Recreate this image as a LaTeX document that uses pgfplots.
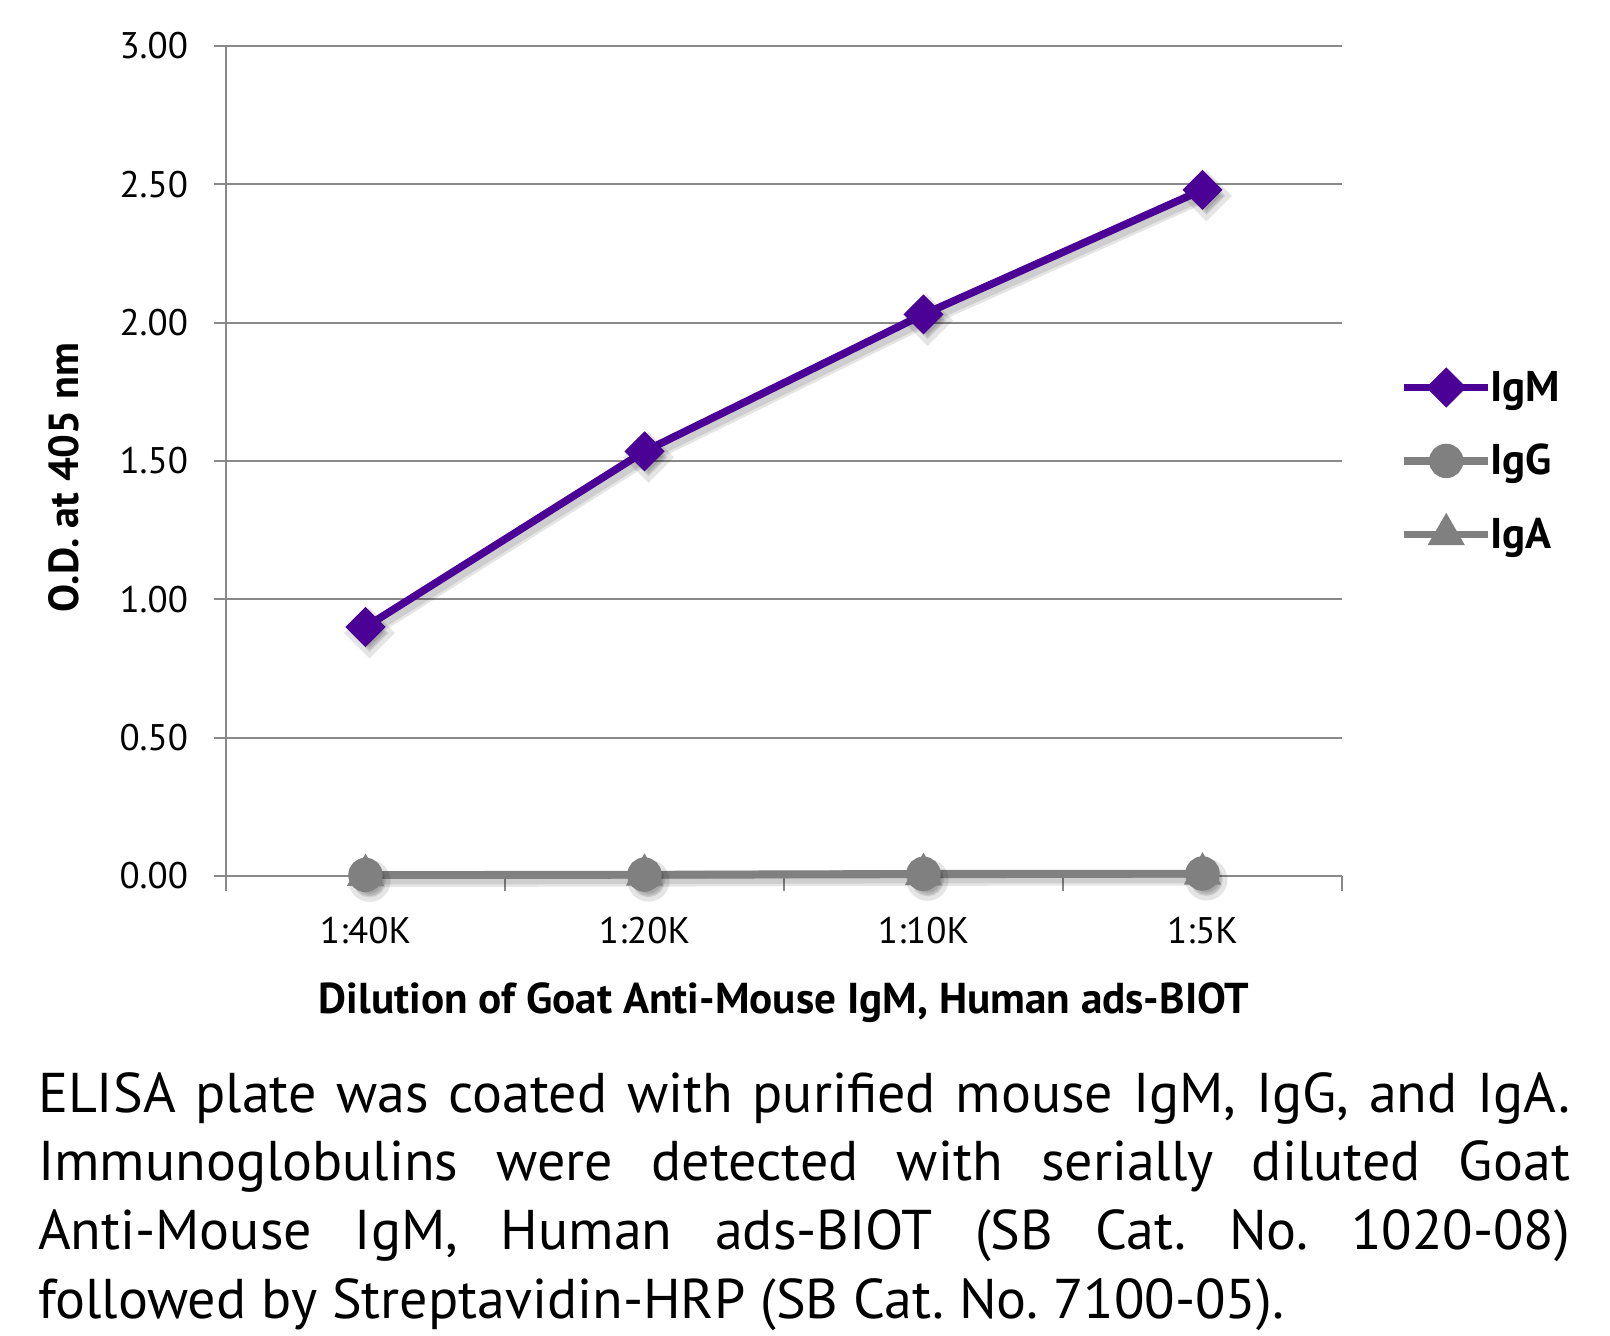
\documentclass[border=0pt]{standalone}
\usepackage{fontspec}
\setmainfont{PT Sans}
\usepackage{pgfplots}
\pgfplotsset{compat=1.18}
\definecolor{igm}{RGB}{75,0,150}
\definecolor{gr}{RGB}{128,128,128}
\definecolor{gridc}{RGB}{137,137,137}

\begin{document}
\frenchspacing
\begin{tikzpicture}
\path[use as bounding box] (0,0) rectangle (805pt,-667.5pt);
\begin{axis}[
  at={(113pt,-438pt)}, anchor=south west, scale only axis,
  width=558pt, height=415pt,
  xmin=-0.5, xmax=3.5, ymin=0, ymax=3,
  axis x line=bottom, axis y line=left,
  axis line style={gridc, line width=1pt, -},
  xtick={0,1,2,3}, xticklabels={1:40K,1:20K,1:10K,1:5K},
  major x tick style={draw=none},
  extra x ticks={-0.5,0.5,1.5,2.5,3.5}, extra x tick labels={},
  extra x tick style={major tick length=7.5pt, tick align=outside, grid=none,
     major x tick style={draw=gridc, line width=1pt}},
  ytick={0,0.5,1,1.5,2,2.5,3},
  ymajorgrids, grid style={gridc, line width=1pt},
  major y tick style={draw=gridc, line width=1pt},
  major tick length=6pt, tick align=outside,
  /pgf/number format/assume math mode=true,
  yticklabel style={/pgf/number format/fixed, /pgf/number format/fixed zerofill, /pgf/number format/precision=2, xshift=-9.5pt},
  tick label style={font=\fontsize{18.5}{20}\selectfont, black},
  xticklabel style={yshift=-11pt},
  xlabel={Dilution of Goat Anti-Mouse IgM, Human ads-BIOT},
  ylabel={O.D. at 405 nm},
  label style={font=\bfseries\fontsize{21}{24}\selectfont},
  xlabel style={at={(axis description cs:0.5,-0.152)}, anchor=center, font=\bfseries\fontsize{21.6}{24}\selectfont},
  ylabel style={at={(axis description cs:-0.145,0.48)}, anchor=center},
  legend style={at={(axis description cs:1.052,0.5)}, anchor=west, draw=none, fill=none,
     font=\bfseries\fontsize{21.5}{24}\selectfont, row sep=16pt, inner sep=0pt,
     /tikz/every odd column/.append style={column sep=-3pt}},
  legend cell align=left,
  legend image code/.code={\draw[mark repeat=2,mark phase=2,#1] plot coordinates {(0pt,0pt)(21pt,0pt)(42pt,0pt)};},
  clip=false,
]
% soft shadows
\addplot[forget plot, black, opacity=0.10, line width=6pt, shift={(2pt,-3pt)}, mark=square*, mark size=6pt, mark options={rotate=45, draw=none}] coordinates {
  (0,0.90) (1,1.535) (2,2.03) (3,2.48)};
\addplot[forget plot, black, opacity=0.10, line width=3.5pt, shift={(2pt,-3pt)}, mark=square*, mark size=5pt, mark options={rotate=45, draw=none}] coordinates {
  (0,0.90) (1,1.535) (2,2.03) (3,2.48)};
\addplot[forget plot, black, opacity=0.10, line width=6pt, shift={(2pt,-3pt)}, mark=*, mark size=7.5pt, mark options={draw=none}] coordinates {
  (0,0.004) (1,0.005) (2,0.008) (3,0.009)};
\addplot[forget plot, black, opacity=0.10, line width=3.5pt, shift={(2pt,-3pt)}, mark=*, mark size=6.5pt, mark options={draw=none}] coordinates {
  (0,0.004) (1,0.005) (2,0.008) (3,0.009)};
% data
\addplot[igm, line width=3.8pt, mark=square*, mark size=5.2pt, mark options={solid, rotate=45}] coordinates {
  (0,0.90) (1,1.535) (2,2.03) (3,2.48)};
\addlegendentry{IgM}
\addplot[gr, line width=3.8pt, mark=*, mark size=6.7pt] coordinates {
  (0,0.004) (1,0.005) (2,0.008) (3,0.009)};
\addlegendentry{IgG}
\addplot[gr, line width=3.8pt, mark=triangle*, mark size=7pt] coordinates {
  (0,0.003) (1,0.004) (2,0.006) (3,0.008)};
\addlegendentry{IgA}
\end{axis}
\node[anchor=base west, text width=766pt, align=justify, inner sep=0pt,
      font=\fontsize{28}{34.35}\selectfont] at (18.8pt,-556pt)
 {ELISA plate was coated with purified mouse IgM, IgG, and IgA.\linebreak
  Immunoglobulins were detected with serially diluted Goat\linebreak
  Anti-Mouse IgM, Human ads-BIOT (SB Cat. No. 1020-08)\linebreak
  followed by Streptavidin-HRP (SB Cat. No. 7100-05).};
\end{tikzpicture}
\end{document}
